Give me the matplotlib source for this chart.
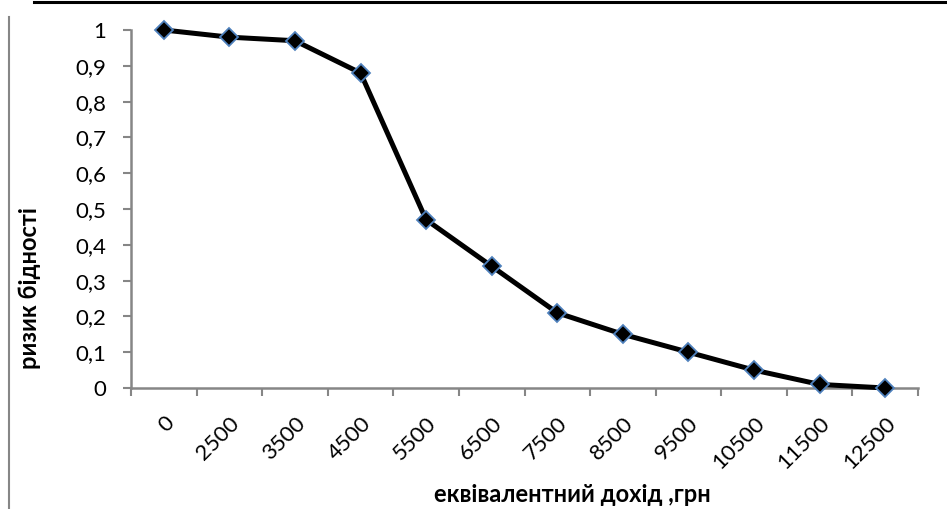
import matplotlib.pyplot as plt
from matplotlib.lines import Line2D

# Дані
dohid = ['0', '2500', '3500', '4500', '5500', '6500', '7500',
         '8500', '9500', '10500', '11500', '12500']
ryzyk = [1.0, 0.98, 0.97, 0.88, 0.47, 0.34, 0.21, 0.15, 0.10, 0.05, 0.01, 0.0]
y_ticks = [0, 0.1, 0.2, 0.3, 0.4, 0.5, 0.6, 0.7, 0.8, 0.9, 1.0]
y_labels = ['0', '0,1', '0,2', '0,3', '0,4', '0,5', '0,6', '0,7', '0,8', '0,9', '1']

plt.rcParams['font.family'] = ['Lato', 'DejaVu Sans']

W, H = 947, 509
fig = plt.figure(figsize=(W / 100, H / 100), dpi=100)
ax = fig.add_axes([131 / W, 1 - 388 / H, 787 / W, 358 / H])

x = list(range(len(dohid)))
ax.plot(x, ryzyk, color='black', lw=3.6, marker='D', markersize=9.5,
        markerfacecolor='black', markeredgecolor='#4F81BD', markeredgewidth=1.3,
        zorder=3, clip_on=False)

ax.set_xlim(-0.5, len(dohid) - 0.5)
ax.set_ylim(0, 1)

# Осі
gray = '#868686'
for s in ['top', 'right']:
    ax.spines[s].set_visible(False)
for s in ['left', 'bottom']:
    ax.spines[s].set_color(gray)
    ax.spines[s].set_linewidth(1.8)

ax.set_yticks(y_ticks)
ax.set_yticklabels(y_labels, fontsize=16)
ax.tick_params(axis='y', direction='out', length=6, width=1.5, color=gray, pad=12)

# поділки між категоріями, підписи по центру категорій
ax.set_xticks([i - 0.5 for i in range(len(dohid) + 1)])
ax.set_xticklabels([])
ax.set_xticks(x, minor=True)
ax.set_xticklabels(dohid, minor=True, rotation=45, ha='right', va='top',
                   rotation_mode='anchor', fontsize=16)
ax.tick_params(axis='x', which='major', direction='out', length=6, width=1.5, color=gray)
ax.tick_params(axis='x', which='minor', length=0, pad=18)

# Назви осей
fig.text(30 / W, 1 - 288 / H, 'ризик бідності', rotation=90, ha='center', va='center',
         fontsize=17, fontweight='bold')
fig.text(572 / W, 1 - 495 / H, 'еквівалентний дохід ,грн', ha='center', va='center',
         fontsize=17, fontweight='bold')

# Рамки сторінки
fig.add_artist(Line2D([34 / W, 1.0], [1 - 2 / H, 1 - 2 / H],
                      color='black', lw=2.2, transform=fig.transFigure))
fig.add_artist(Line2D([9 / W, 9 / W], [0, 1 - 17 / H],
                      color=gray, lw=1.5, transform=fig.transFigure))

fig.savefig('out.png', dpi=100)
